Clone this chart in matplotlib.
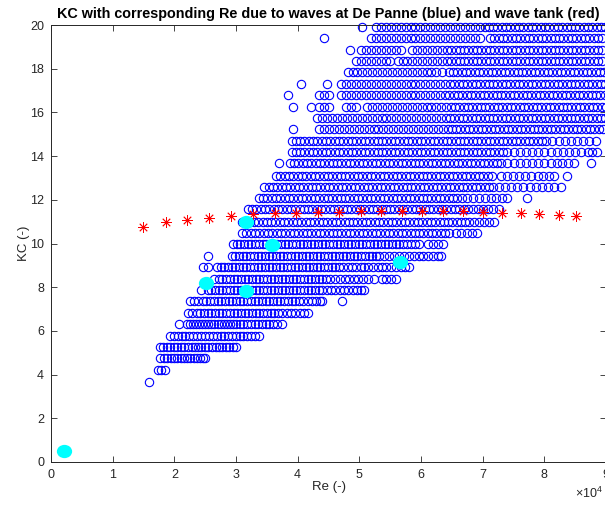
import matplotlib
matplotlib.use("Agg")
import matplotlib.pyplot as plt
from matplotlib.path import Path
from matplotlib.transforms import Affine2D
from matplotlib.ticker import FuncFormatter

plt.rcParams['font.family'] = ['Liberation Sans', 'DejaVu Sans']
plt.rcParams['mathtext.fontset'] = 'custom'
plt.rcParams['mathtext.rm'] = 'Liberation Sans'

# De Panne field data: one KC level per row, Re values (x 1e4) along it
kc_levels = [3.67, 4.21, 4.75, 5.28, 5.78, 6.30, 6.83, 7.37, 7.87, 8.38, 8.91,
             9.42, 9.96, 10.49, 11.00, 11.58, 12.07, 12.57, 13.10, 13.67, 14.20,
             14.70, 15.24, 15.74, 16.25, 16.78, 17.30, 17.85, 18.37, 18.84,
             19.41, 19.91]

re_rows = [
    [1.59],
    [1.74, 1.79, 1.85],
    [1.77, 1.83, 1.88, 1.95, 2.00, 2.05, 2.10, 2.16, 2.20, 2.26, 2.32, 2.37, 2.42, 2.46, 2.49],
    [1.77, 1.82, 1.88, 1.93, 1.99, 2.05, 2.10, 2.16, 2.22, 2.28, 2.33, 2.39, 2.44, 2.50, 2.55,
     2.61, 2.67, 2.72, 2.78, 2.83, 2.89, 2.95, 3.00],
    [1.93, 2.00, 2.06, 2.12, 2.18, 2.24, 2.30, 2.37, 2.43, 2.50, 2.56, 2.63, 2.69, 2.75, 2.80,
     2.87, 2.93, 3.00, 3.06, 3.12, 3.18, 3.25, 3.31, 3.37],
    [2.07, 2.20, 2.25, 2.30, 2.35, 2.40, 2.45, 2.50, 2.55, 2.60, 2.65, 2.70, 2.75, 2.80, 2.85,
     2.90, 2.95, 3.00, 3.06, 3.12, 3.18, 3.24, 3.30, 3.36, 3.42, 3.48, 3.54, 3.60, 3.67, 3.74],
    [2.22, 2.29, 2.36, 2.42, 2.48, 2.54, 2.60, 2.66, 2.72, 2.78, 2.84, 2.90, 2.96, 3.02, 3.08,
     3.14, 3.20, 3.26, 3.32, 3.38, 3.44, 3.50, 3.56, 3.62, 3.68, 3.75, 3.82, 3.89, 3.96, 4.03,
     4.10, 4.16],
    [2.25, 2.32, 2.39, 2.46, 2.52, 2.58, 2.64, 2.70, 2.76, 2.82, 2.88, 2.94, 3.00, 3.06, 3.12,
     3.18, 3.24, 3.30, 3.36, 3.42, 3.48, 3.54, 3.60, 3.66, 3.72, 3.78, 3.84, 3.90, 3.96, 4.02,
     4.09, 4.16, 4.23, 4.30, 4.36, 4.40, 4.72],
    [2.44, 2.54, 2.60, 2.66, 2.72, 2.78, 2.84, 2.90, 2.96, 3.02, 3.08, 3.14, 3.20, 3.26, 3.32,
     3.38, 3.44, 3.50, 3.56, 3.62, 3.68, 3.74, 3.80, 3.86, 3.92, 3.98, 4.04, 4.10, 4.16, 4.22,
     4.28, 4.34, 4.40, 4.47, 4.54, 4.61, 4.68, 4.75, 4.82, 4.89, 4.96, 5.02, 5.08],
    [2.65, 2.72, 2.78, 2.84, 2.90, 2.96, 3.02, 3.08, 3.14, 3.20, 3.26, 3.32, 3.38, 3.44, 3.50,
     3.56, 3.62, 3.68, 3.74, 3.80, 3.86, 3.92, 3.98, 4.04, 4.10, 4.16, 4.22, 4.28, 4.34, 4.40,
     4.46, 4.52, 4.60, 4.68, 4.76, 4.84, 4.92, 4.98, 5.06, 5.14, 5.24, 5.36, 5.44, 5.52, 5.60],
    [2.46, 2.54, 2.69, 2.75, 2.81, 2.87, 2.93, 2.99, 3.05, 3.11, 3.17, 3.23, 3.29, 3.35, 3.41,
     3.47, 3.53, 3.59, 3.65, 3.71, 3.77, 3.83, 3.89, 3.95, 4.01, 4.07, 4.13, 4.19, 4.25, 4.31,
     4.37, 4.43, 4.49, 4.55, 4.61, 4.67, 4.74, 4.81, 4.88, 4.95, 5.02, 5.08, 5.14, 5.22, 5.30,
     5.36, 5.44, 5.52, 5.60, 5.68, 5.74, 5.81],
    [2.54, 2.93, 2.99, 3.05, 3.11, 3.17, 3.23, 3.29, 3.35, 3.41, 3.47, 3.53, 3.59, 3.65, 3.71,
     3.77, 3.83, 3.89, 3.95, 4.01, 4.07, 4.13, 4.19, 4.25, 4.31, 4.37, 4.43, 4.49, 4.55, 4.61,
     4.67, 4.73, 4.79, 4.85, 4.91, 4.97, 5.03, 5.09, 5.15, 5.21, 5.27, 5.32, 5.40, 5.48, 5.56,
     5.64, 5.72, 5.80, 5.88, 5.96, 6.04, 6.12, 6.20, 6.27, 6.33],
    [2.95, 3.01, 3.07, 3.13, 3.19, 3.25, 3.31, 3.37, 3.43, 3.49, 3.55, 3.61, 3.67, 3.73, 3.79,
     3.85, 3.91, 3.97, 4.03, 4.09, 4.15, 4.21, 4.27, 4.33, 4.39, 4.45, 4.51, 4.57, 4.63, 4.69,
     4.75, 4.81, 4.87, 4.93, 4.99, 5.05, 5.11, 5.17, 5.23, 5.29, 5.35, 5.41, 5.47, 5.53, 5.59,
     5.65, 5.71, 5.77, 5.83, 5.90, 5.97, 6.12, 6.20, 6.28, 6.36],
    [3.10, 3.17, 3.24, 3.31, 3.38, 3.45, 3.52, 3.59, 3.66, 3.73, 3.80, 3.87, 3.94, 4.01, 4.08,
     4.15, 4.22, 4.29, 4.36, 4.43, 4.50, 4.57, 4.64, 4.71, 4.78, 4.85, 4.92, 4.99, 5.06, 5.13,
     5.20, 5.27, 5.34, 5.41, 5.48, 5.55, 5.62, 5.69, 5.76, 5.83, 5.90, 5.97, 6.04, 6.11, 6.18,
     6.25, 6.32, 6.39, 6.46, 6.56, 6.65, 6.74, 6.82, 6.90],
    [3.10, 3.16, 3.22, 3.29, 3.36, 3.43, 3.50, 3.57, 3.64, 3.71, 3.78, 3.85, 3.92, 3.99, 4.06,
     4.13, 4.20, 4.27, 4.34, 4.41, 4.48, 4.55, 4.62, 4.69, 4.76, 4.83, 4.90, 4.97, 5.04, 5.11,
     5.18, 5.25, 5.32, 5.39, 5.46, 5.53, 5.60, 5.67, 5.74, 5.81, 5.88, 5.95, 6.02, 6.09, 6.16,
     6.23, 6.30, 6.37, 6.44, 6.51, 6.58, 6.65, 6.72, 6.78, 6.86, 6.94, 7.02, 7.10, 7.19],
    [3.19, 3.26, 3.33, 3.40, 3.47, 3.54, 3.61, 3.68, 3.75, 3.82, 3.89, 3.96, 4.03, 4.10, 4.17,
     4.24, 4.31, 4.38, 4.45, 4.52, 4.59, 4.66, 4.73, 4.80, 4.87, 4.94, 5.01, 5.08, 5.15, 5.22,
     5.29, 5.36, 5.43, 5.50, 5.57, 5.64, 5.71, 5.78, 5.85, 5.92, 5.99, 6.06, 6.13, 6.20, 6.27,
     6.34, 6.41, 6.48, 6.55, 6.62, 6.69, 6.76, 6.84, 6.92, 7.00, 7.08, 7.17, 7.27],
    [3.37, 3.44, 3.51, 3.58, 3.65, 3.72, 3.79, 3.86, 3.93, 4.00, 4.07, 4.14, 4.21, 4.28, 4.35,
     4.42, 4.49, 4.56, 4.63, 4.70, 4.77, 4.84, 4.91, 4.98, 5.05, 5.12, 5.19, 5.26, 5.33, 5.40,
     5.47, 5.54, 5.61, 5.68, 5.75, 5.82, 5.89, 5.96, 6.03, 6.10, 6.17, 6.24, 6.31, 6.38, 6.45,
     6.52, 6.59, 6.66, 6.74, 6.84, 6.94, 7.04, 7.13, 7.22, 7.31, 7.39, 7.72],
    [3.46, 3.53, 3.60, 3.67, 3.74, 3.81, 3.88, 3.95, 4.02, 4.09, 4.16, 4.23, 4.30, 4.37, 4.44,
     4.51, 4.58, 4.65, 4.72, 4.79, 4.86, 4.93, 5.00, 5.07, 5.14, 5.21, 5.28, 5.35, 5.42, 5.49,
     5.56, 5.63, 5.70, 5.77, 5.84, 5.91, 5.98, 6.05, 6.12, 6.19, 6.26, 6.33, 6.40, 6.47, 6.54,
     6.61, 6.68, 6.75, 6.82, 6.89, 6.96, 7.03, 7.10, 7.17, 7.26, 7.36, 7.46, 7.56, 7.66, 7.76,
     7.86, 7.96, 8.06, 8.16, 8.27],
    [3.65, 3.72, 3.79, 3.86, 3.93, 4.00, 4.07, 4.14, 4.21, 4.28, 4.35, 4.42, 4.49, 4.56, 4.63,
     4.70, 4.77, 4.84, 4.91, 4.98, 5.05, 5.12, 5.19, 5.26, 5.33, 5.40, 5.47, 5.54, 5.61, 5.68,
     5.75, 5.82, 5.89, 5.96, 6.03, 6.10, 6.17, 6.24, 6.31, 6.38, 6.45, 6.52, 6.59, 6.66, 6.73,
     6.80, 6.87, 6.94, 7.01, 7.08, 7.15, 7.29, 7.39, 7.49, 7.59, 7.69, 7.79, 7.89, 7.98, 8.07,
     8.16, 8.37],
    [3.70, 3.87, 3.94, 4.01, 4.08, 4.15, 4.22, 4.29, 4.36, 4.43, 4.50, 4.57, 4.64, 4.71, 4.78,
     4.85, 4.92, 4.99, 5.06, 5.13, 5.20, 5.27, 5.34, 5.41, 5.48, 5.55, 5.62, 5.69, 5.76, 5.83,
     5.90, 5.97, 6.04, 6.11, 6.18, 6.25, 6.32, 6.39, 6.46, 6.53, 6.60, 6.67, 6.74, 6.81, 6.88,
     6.95, 7.02, 7.09, 7.16, 7.23, 7.30, 7.40, 7.50, 7.60, 7.70, 7.80, 7.90, 8.00, 8.10, 8.20,
     8.29, 8.38, 8.48, 8.75],
    [3.90, 3.97, 4.04, 4.11, 4.18, 4.25, 4.32, 4.39, 4.46, 4.53, 4.60, 4.67, 4.74, 4.81, 4.88,
     4.95, 5.02, 5.09, 5.16, 5.23, 5.30, 5.37, 5.44, 5.51, 5.58, 5.65, 5.72, 5.79, 5.86, 5.93,
     6.00, 6.07, 6.14, 6.21, 6.28, 6.35, 6.42, 6.49, 6.56, 6.63, 6.70, 6.77, 6.84, 6.91, 6.98,
     7.05, 7.12, 7.19, 7.26, 7.33, 7.40, 7.50, 7.60, 7.70, 7.80, 7.90, 8.00, 8.10, 8.20, 8.30,
     8.40, 8.50, 8.60, 8.70, 8.78, 8.85],
    [3.90, 3.97, 4.04, 4.11, 4.18, 4.25, 4.32, 4.39, 4.46, 4.53, 4.60, 4.67, 4.74, 4.81, 4.88,
     4.95, 5.02, 5.09, 5.16, 5.23, 5.30, 5.37, 5.44, 5.51, 5.58, 5.65, 5.72, 5.79, 5.86, 5.93,
     6.00, 6.07, 6.14, 6.21, 6.28, 6.35, 6.42, 6.49, 6.56, 6.63, 6.70, 6.77, 6.84, 6.91, 6.98,
     7.05, 7.12, 7.19, 7.26, 7.33, 7.40, 7.47, 7.54, 7.61, 7.68, 7.75, 7.82, 7.89, 7.96, 8.03,
     8.13, 8.23, 8.33, 8.43, 8.53, 8.63, 8.73, 8.83],
    [3.93, 4.35, 4.43, 4.51, 4.59, 4.67, 4.75, 4.83, 4.91, 4.99, 5.07, 5.15, 5.23, 5.31, 5.39,
     5.47, 5.55, 5.63, 5.71, 5.79, 5.87, 5.95, 6.03, 6.11, 6.19, 6.27, 6.35, 6.43, 6.50, 6.57,
     6.64, 6.71, 6.78, 6.85, 6.92, 6.99, 7.06, 7.13, 7.20, 7.27, 7.34, 7.41, 7.48, 7.55, 7.62,
     7.69, 7.76, 7.83, 7.90, 7.97, 8.04, 8.11, 8.18, 8.25, 8.32, 8.39, 8.46, 8.53, 8.60, 8.67,
     8.74, 8.81, 8.88, 8.95],
    [4.32, 4.40, 4.48, 4.56, 4.64, 4.72, 4.80, 4.88, 4.96, 5.04, 5.12, 5.20, 5.28, 5.36, 5.44,
     5.52, 5.60, 5.68, 5.76, 5.84, 5.92, 6.00, 6.08, 6.16, 6.24, 6.32, 6.40, 6.47, 6.54, 6.61,
     6.68, 6.75, 6.82, 6.89, 6.96, 7.03, 7.10, 7.17, 7.24, 7.31, 7.38, 7.45, 7.52, 7.59, 7.66,
     7.73, 7.80, 7.87, 7.94, 8.01, 8.08, 8.15, 8.22, 8.29, 8.36, 8.43, 8.50, 8.57, 8.64, 8.71,
     8.78, 8.85, 8.92, 8.99],
    [3.92, 4.22, 4.35, 4.43, 4.51, 4.79, 4.87, 4.95, 5.13, 5.21, 5.29, 5.37, 5.45, 5.53, 5.61,
     5.69, 5.77, 5.85, 5.93, 6.01, 6.09, 6.17, 6.25, 6.33, 6.41, 6.48, 6.55, 6.62, 6.69, 6.76,
     6.83, 6.90, 6.97, 7.04, 7.11, 7.18, 7.25, 7.32, 7.39, 7.46, 7.53, 7.60, 7.67, 7.74, 7.81,
     7.88, 7.95, 8.02, 8.09, 8.16, 8.23, 8.30, 8.37, 8.44, 8.51, 8.58, 8.65, 8.72, 8.79, 8.86,
     8.93, 9.00],
    [3.85, 4.35, 4.43, 4.51, 4.71, 4.79, 4.87, 4.95, 5.03, 5.11, 5.19, 5.27, 5.35, 5.43, 5.51,
     5.59, 5.67, 5.75, 5.83, 5.91, 5.99, 6.07, 6.15, 6.23, 6.31, 6.39, 6.46, 6.53, 6.60, 6.67,
     6.74, 6.81, 6.88, 6.95, 7.02, 7.09, 7.16, 7.23, 7.30, 7.37, 7.44, 7.51, 7.58, 7.65, 7.72,
     7.79, 7.86, 7.93, 8.00, 8.07, 8.14, 8.21, 8.28, 8.35, 8.42, 8.49, 8.56, 8.63, 8.70, 8.77,
     8.84, 8.91, 8.98],
    [4.06, 4.47, 4.71, 4.79, 4.87, 4.95, 5.03, 5.11, 5.19, 5.27, 5.35, 5.43, 5.51, 5.59, 5.67,
     5.75, 5.83, 5.91, 5.99, 6.07, 6.15, 6.23, 6.31, 6.39, 6.47, 6.54, 6.61, 6.68, 6.75, 6.82,
     6.89, 6.96, 7.03, 7.10, 7.17, 7.24, 7.31, 7.38, 7.45, 7.52, 7.59, 7.66, 7.73, 7.80, 7.87,
     7.94, 8.01, 8.08, 8.15, 8.22, 8.29, 8.36, 8.43, 8.50, 8.57, 8.64, 8.71, 8.78, 8.85, 8.92,
     8.99],
    [4.81, 4.89, 4.97, 5.05, 5.13, 5.21, 5.29, 5.37, 5.45, 5.53, 5.61, 5.69, 5.77, 5.85, 5.93,
     6.01, 6.09, 6.17, 6.25, 6.34, 6.45, 6.52, 6.59, 6.66, 6.73, 6.80, 6.87, 6.94, 7.01, 7.08,
     7.15, 7.22, 7.29, 7.36, 7.43, 7.50, 7.57, 7.64, 7.71, 7.78, 7.85, 7.92, 7.99, 8.06, 8.13,
     8.20, 8.27, 8.34, 8.41, 8.48, 8.55, 8.62, 8.69, 8.76, 8.83, 8.90, 8.97],
    [4.95, 5.03, 5.11, 5.19, 5.27, 5.35, 5.43, 5.49, 5.62, 5.70, 5.78, 5.86, 5.94, 6.02, 6.10,
     6.18, 6.26, 6.34, 6.42, 6.49, 6.56, 6.63, 6.70, 6.77, 6.84, 6.91, 6.98, 7.05, 7.12, 7.19,
     7.26, 7.33, 7.40, 7.47, 7.54, 7.61, 7.68, 7.75, 7.82, 7.89, 7.96, 8.03, 8.10, 8.17, 8.24,
     8.31, 8.38, 8.45, 8.52, 8.59, 8.66, 8.73, 8.80, 8.87, 8.94],
    [4.85, 5.03, 5.11, 5.19, 5.27, 5.35, 5.43, 5.51, 5.59, 5.67, 5.86, 5.94, 6.02, 6.10, 6.18,
     6.26, 6.34, 6.42, 6.49, 6.56, 6.63, 6.70, 6.77, 6.84, 6.91, 6.98, 7.05, 7.12, 7.19, 7.26,
     7.33, 7.40, 7.47, 7.54, 7.61, 7.68, 7.75, 7.82, 7.89, 7.96, 8.03, 8.10, 8.17, 8.24, 8.31,
     8.38, 8.45, 8.52, 8.59, 8.66, 8.73, 8.80, 8.87, 8.94],
    [4.43, 5.19, 5.27, 5.35, 5.43, 5.51, 5.59, 5.67, 5.75, 5.83, 5.91, 5.99, 6.07, 6.15, 6.23,
     6.31, 6.39, 6.47, 6.55, 6.63, 6.71, 6.79, 6.87, 6.95, 7.12, 7.19, 7.26, 7.33, 7.40, 7.47,
     7.54, 7.61, 7.68, 7.75, 7.82, 7.89, 7.96, 8.03, 8.10, 8.17, 8.24, 8.31, 8.38, 8.45, 8.52,
     8.59, 8.66, 8.73, 8.80, 8.87, 8.94],
    [5.05, 5.27, 5.35, 5.43, 5.51, 5.59, 5.67, 5.75, 5.83, 5.91, 5.99, 6.07, 6.15, 6.23, 6.31,
     6.39, 6.47, 6.55, 6.63, 6.71, 6.79, 6.87, 6.95, 7.03, 7.10, 7.17, 7.24, 7.31, 7.38, 7.45,
     7.52, 7.59, 7.66, 7.73, 7.80, 7.87, 7.94, 8.01, 8.08, 8.15, 8.22, 8.29, 8.36, 8.43, 8.50,
     8.57, 8.64, 8.71, 8.78, 8.85, 8.92, 8.99],
]

# wave tank runs (x 1e4)
tank_re = [1.49, 1.86, 2.21, 2.56, 2.92, 3.27, 3.63, 3.98, 4.33, 4.67, 5.02,
           5.35, 5.69, 6.02, 6.36, 6.68, 7.01, 7.32, 7.62, 7.92, 8.23, 8.52]
tank_kc = [10.77, 10.97, 11.08, 11.15, 11.26, 11.35, 11.38, 11.38, 11.43, 11.43,
           11.49, 11.49, 11.49, 11.49, 11.49, 11.49, 11.46, 11.41, 11.38, 11.34,
           11.30, 11.26]

# highlighted points (x 1e4)
mark_re = [0.21, 3.17, 3.59, 2.52, 3.17, 5.66]
mark_kc = [0.50, 11.00, 9.93, 8.19, 7.83, 9.14]

RE_SCALE = 1e4
axis_gray = (0.15, 0.15, 0.15)

fig = plt.figure(figsize=(6.05, 5.05), dpi=100)
ax = fig.add_axes([51 / 605, 43 / 505, 555 / 605, 437 / 505])

field_re = []
field_kc = []
for kc, row in zip(kc_levels, re_rows):
    field_re += [r * RE_SCALE for r in row]
    field_kc += [kc] * len(row)

ax.plot(field_re, field_kc, ls='none', marker='o', ms=6, mfc='none',
        mec=(0, 0, 1), mew=0.8, clip_on=False)

ax.plot([r * RE_SCALE for r in tank_re], tank_kc, ls='none',
        marker=(8, 2, 0), ms=7.5, color=(1, 0, 0), mew=0.6)

ellipse = Path.unit_circle().transformed(Affine2D().scale(1.15, 1.0))
ax.plot([r * RE_SCALE for r in mark_re], mark_kc, ls='none', marker=ellipse,
        ms=11, mfc=(0, 1, 1), mec=(0, 1, 1), mew=0, clip_on=False)

ax.set_xlim(0, 9 * RE_SCALE)
ax.set_ylim(0, 20)
ax.set_xticks([i * RE_SCALE for i in range(10)])
ax.set_yticks(range(0, 21, 2))
ax.xaxis.set_major_formatter(FuncFormatter(lambda v, p: f"{v / RE_SCALE:g}"))

ax.tick_params(direction='in', length=4, width=0.6, colors=axis_gray,
               labelsize=9, top=True, right=True)
ax.tick_params(axis='x', pad=5)
ax.tick_params(axis='y', pad=5)
for sp in ax.spines.values():
    sp.set_color(axis_gray)
    sp.set_linewidth(0.7)

ax.set_xlabel('Re (-)', fontsize=9.5, color=axis_gray, labelpad=0)
ax.set_ylabel('KC (-)', fontsize=9.5, color=axis_gray, labelpad=0)
ax.set_title('KC with corresponding Re due to waves at De Panne (blue) and wave tank (red)',
             fontsize=10.4, fontweight='bold', color='black', pad=5)
fig.text(589 / 605, 1 - 493 / 505, r'$\times10^{4}$', fontsize=9, color=axis_gray,
         ha='center', va='center')

fig.savefig('out.png', dpi=100)
